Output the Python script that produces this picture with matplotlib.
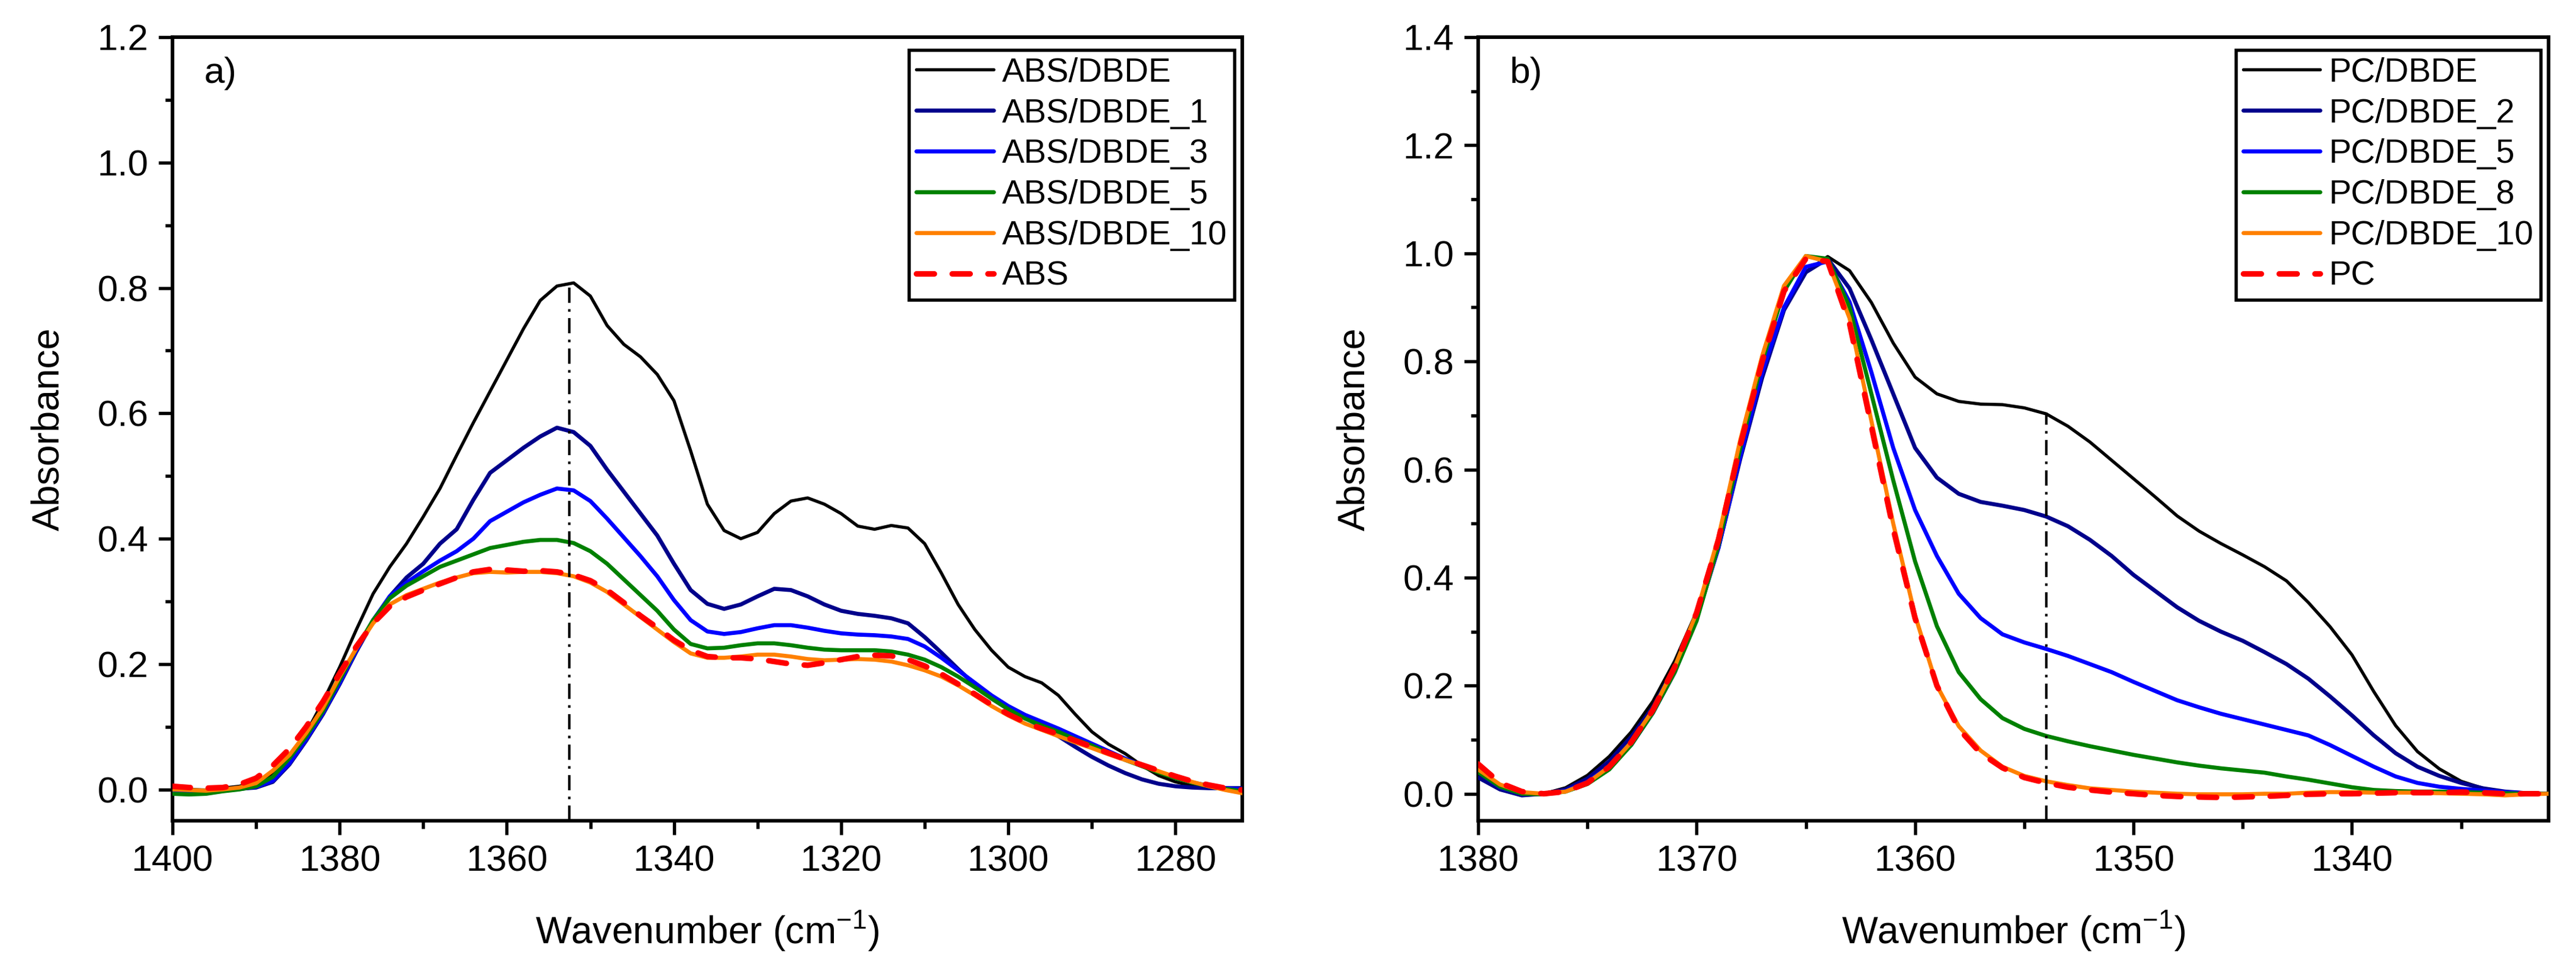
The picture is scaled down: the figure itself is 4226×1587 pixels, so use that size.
import numpy as np
import matplotlib
matplotlib.use("Agg")
import matplotlib.pyplot as plt
from matplotlib.ticker import MultipleLocator

plt.rcParams['font.family'] = ['Liberation Sans', 'DejaVu Sans']
plt.rcParams['mathtext.fontset'] = 'custom'
plt.rcParams['mathtext.rm'] = 'Liberation Sans'
plt.rcParams['mathtext.it'] = 'Liberation Sans:italic'
plt.rcParams['mathtext.bf'] = 'Liberation Sans:bold'

# ---------------- Panel a) data ----------------
wn_a = np.arange(1400, 1271, -2)

abs_dbde = [0.000, 0.000, -0.001, 0.002, 0.005, 0.012, 0.025, 0.050, 0.090, 0.140,
            0.195, 0.255, 0.312, 0.355, 0.392, 0.435, 0.480, 0.533, 0.585, 0.635,
            0.685, 0.735, 0.780, 0.803, 0.808, 0.787, 0.740, 0.710, 0.690, 0.662,
            0.620, 0.540, 0.455, 0.413, 0.400, 0.410, 0.440, 0.460, 0.465, 0.455,
            0.440, 0.420, 0.415, 0.421, 0.417, 0.392, 0.345, 0.295, 0.255, 0.222,
            0.195, 0.180, 0.170, 0.150, 0.120, 0.092, 0.072, 0.057, 0.038, 0.022,
            0.012, 0.006, 0.003, 0.000, -0.002]

abs_dbde_1 = [-0.005, -0.006, -0.006, -0.002, 0.001, 0.003, 0.012, 0.040, 0.078, 0.120,
              0.168, 0.220, 0.268, 0.308, 0.338, 0.360, 0.392, 0.415, 0.462, 0.505,
              0.525, 0.545, 0.563, 0.577, 0.570, 0.548, 0.510, 0.475, 0.440, 0.405,
              0.360, 0.318, 0.296, 0.288, 0.295, 0.308, 0.320, 0.318, 0.308, 0.295,
              0.285, 0.280, 0.277, 0.273, 0.265, 0.243, 0.218, 0.192, 0.167, 0.145,
              0.128, 0.114, 0.100, 0.085, 0.068, 0.052, 0.038, 0.026, 0.016, 0.009,
              0.005, 0.003, 0.002, 0.002, 0.002]

abs_dbde_3 = [-0.004, -0.005, -0.005, -0.002, 0.001, 0.004, 0.014, 0.042, 0.080, 0.122,
              0.170, 0.222, 0.270, 0.308, 0.330, 0.348, 0.365, 0.380, 0.400, 0.428,
              0.443, 0.458, 0.470, 0.480, 0.477, 0.460, 0.432, 0.402, 0.372, 0.340,
              0.302, 0.270, 0.252, 0.248, 0.251, 0.257, 0.262, 0.262, 0.258, 0.253,
              0.249, 0.247, 0.246, 0.244, 0.240, 0.228, 0.210, 0.190, 0.170, 0.150,
              0.133, 0.119, 0.108, 0.097, 0.085, 0.073, 0.061, 0.049, 0.038, 0.028,
              0.019, 0.011, 0.006, 0.002, 0.000]

abs_dbde_5 = [-0.007, -0.008, -0.007, -0.003, 0.000, 0.005, 0.020, 0.050, 0.085, 0.125,
              0.175, 0.225, 0.270, 0.305, 0.325, 0.340, 0.355, 0.365, 0.375, 0.385,
              0.390, 0.395, 0.398, 0.398, 0.393, 0.380, 0.360, 0.335, 0.310, 0.285,
              0.255, 0.232, 0.225, 0.226, 0.230, 0.233, 0.233, 0.230, 0.226, 0.223,
              0.222, 0.222, 0.222, 0.220, 0.215, 0.207, 0.195, 0.180, 0.163, 0.145,
              0.128, 0.113, 0.102, 0.092, 0.080, 0.070, 0.058, 0.047, 0.037, 0.027,
              0.018, 0.011, 0.005, 0.001, -0.003]

abs_dbde_10 = [0.000, -0.001, -0.002, 0.000, 0.003, 0.010, 0.030, 0.055, 0.090, 0.130,
               0.180, 0.225, 0.265, 0.295, 0.310, 0.320, 0.330, 0.338, 0.345, 0.347,
               0.346, 0.347, 0.347, 0.345, 0.340, 0.330, 0.315, 0.295, 0.275, 0.255,
               0.235, 0.217, 0.210, 0.210, 0.212, 0.215, 0.215, 0.212, 0.208, 0.206,
               0.207, 0.208, 0.207, 0.204, 0.198, 0.190, 0.180, 0.166, 0.150, 0.133,
               0.118, 0.105, 0.095, 0.085, 0.075, 0.066, 0.056, 0.047, 0.038, 0.029,
               0.020, 0.012, 0.005, -0.001, -0.006]

abs_neat = [0.005, 0.003, 0.002, 0.003, 0.008, 0.018, 0.038, 0.065, 0.100, 0.140,
            0.185, 0.228, 0.265, 0.292, 0.307, 0.318, 0.328, 0.338, 0.347, 0.351,
            0.350, 0.348, 0.349, 0.347, 0.342, 0.333, 0.318, 0.298, 0.277, 0.258,
            0.238, 0.222, 0.212, 0.210, 0.210, 0.208, 0.204, 0.200, 0.198, 0.202,
            0.207, 0.212, 0.214, 0.213, 0.207, 0.197, 0.184, 0.168, 0.152, 0.135,
            0.120, 0.107, 0.097, 0.088, 0.078, 0.068, 0.058, 0.048, 0.039, 0.030,
            0.021, 0.013, 0.007, 0.002, -0.001]

labels_a = ['ABS/DBDE', 'ABS/DBDE_1', 'ABS/DBDE_3', 'ABS/DBDE_5', 'ABS/DBDE_10', 'ABS']
marker_a = (1352.5, 0.81)

# ---------------- Panel b) data ----------------
wn_b = np.arange(1380, 1330, -1)

pc_dbde = [0.034, 0.011, -0.002, 0.000, 0.011, 0.034, 0.069, 0.114, 0.171, 0.246,
           0.337, 0.463, 0.623, 0.771, 0.897, 0.966, 0.994, 0.968, 0.909, 0.834,
           0.771, 0.740, 0.726, 0.721, 0.720, 0.714, 0.703, 0.680, 0.651, 0.617,
           0.583, 0.549, 0.514, 0.486, 0.463, 0.442, 0.420, 0.394, 0.354, 0.309,
           0.257, 0.189, 0.126, 0.078, 0.046, 0.023, 0.010, 0.003, 0.000, 0.000]

pc_dbde_2 = [0.030, 0.008, -0.003, 0.000, 0.008, 0.028, 0.060, 0.105, 0.160, 0.235,
             0.330, 0.455, 0.620, 0.770, 0.895, 0.965, 0.990, 0.935, 0.840, 0.740,
             0.640, 0.585, 0.555, 0.540, 0.533, 0.525, 0.513, 0.495, 0.470, 0.440,
             0.405, 0.375, 0.345, 0.320, 0.300, 0.283, 0.262, 0.240, 0.213, 0.180,
             0.145, 0.108, 0.075, 0.050, 0.033, 0.020, 0.010, 0.004, 0.001, 0.000]

pc_dbde_5 = [0.040, 0.012, 0.000, 0.000, 0.005, 0.022, 0.050, 0.090, 0.150, 0.225,
             0.325, 0.455, 0.625, 0.780, 0.900, 0.975, 0.985, 0.910, 0.780, 0.640,
             0.525, 0.440, 0.370, 0.325, 0.295, 0.280, 0.268, 0.255, 0.240, 0.225,
             0.207, 0.190, 0.173, 0.160, 0.148, 0.138, 0.128, 0.118, 0.108, 0.090,
             0.070, 0.050, 0.032, 0.020, 0.013, 0.009, 0.006, 0.003, 0.001, 0.000]

pc_dbde_8 = [0.040, 0.013, 0.000, -0.001, 0.004, 0.018, 0.045, 0.090, 0.150, 0.225,
             0.320, 0.460, 0.640, 0.800, 0.930, 0.995, 0.990, 0.900, 0.740, 0.580,
             0.430, 0.310, 0.225, 0.175, 0.140, 0.120, 0.107, 0.097, 0.088, 0.080,
             0.072, 0.065, 0.058, 0.052, 0.047, 0.043, 0.039, 0.032, 0.026, 0.019,
             0.012, 0.007, 0.005, 0.004, 0.004, 0.003, 0.002, 0.001, 0.000, 0.000]

pc_dbde_10 = [0.045, 0.017, 0.003, 0.000, 0.004, 0.020, 0.050, 0.095, 0.155, 0.235,
              0.335, 0.475, 0.655, 0.810, 0.940, 0.995, 0.985, 0.880, 0.690, 0.500,
              0.330, 0.200, 0.125, 0.080, 0.050, 0.033, 0.023, 0.016, 0.010, 0.007,
              0.004, 0.002, 0.000, -0.001, -0.001, -0.001, 0.000, 0.000, 0.002, 0.003,
              0.003, 0.002, 0.002, 0.002, 0.001, 0.000, -0.001, -0.003, -0.001, 0.000]

pc_neat = [0.055, 0.020, 0.004, 0.000, 0.004, 0.020, 0.050, 0.095, 0.155, 0.235,
           0.335, 0.470, 0.645, 0.800, 0.930, 0.990, 0.985, 0.870, 0.680, 0.490,
           0.325, 0.200, 0.120, 0.075, 0.048, 0.030, 0.020, 0.012, 0.007, 0.003,
           0.000, -0.003, -0.005, -0.006, -0.007, -0.006, -0.005, -0.003, -0.001, 0.000,
           0.000, 0.001, 0.002, 0.002, 0.002, 0.003, 0.002, 0.000, 0.000, 0.000]

labels_b = ['PC/DBDE', 'PC/DBDE_2', 'PC/DBDE_5', 'PC/DBDE_8', 'PC/DBDE_10', 'PC']
marker_b = (1354.0, 0.705)

# ---------------- styling ----------------
colors = ['#000000', '#00008B', '#0000FF', '#008000', '#FF8000', '#FF0000']
widths = [1.25, 1.6, 1.6, 1.6, 1.6, 2.2]

W, H = 4226, 1587
fig = plt.figure(figsize=(W / 300, H / 300), dpi=300)

def px_axes(x0, x1, y0, y1):
    return fig.add_axes([x0 / W, 1 - y1 / H, (x1 - x0) / W, (y1 - y0) / H])

ax_a = px_axes(283, 2038, 61, 1347)
ax_b = px_axes(2425, 4181, 61, 1347)

def draw(ax, wn, series, labels, xlim, ylim, xmaj, xmin, marker, tag):
    for i, (ys, lab) in enumerate(zip(series, labels)):
        if i == 5:
            ax.plot(wn, ys, color=colors[i], lw=widths[i], ls=(0, (3.2, 3.2)),
                    dash_capstyle='round', label=lab, zorder=5 + i)
        else:
            ax.plot(wn, ys, color=colors[i], lw=widths[i], label=lab,
                    solid_capstyle='round', solid_joinstyle='round', zorder=2 + i)
    ax.plot([marker[0], marker[0]], [ylim[0], marker[1]], color='black',
            lw=1.0, ls=(0, (6, 2.5, 1, 2.5)), zorder=12)
    ax.set_xlim(*xlim)
    ax.set_ylim(*ylim)
    ax.xaxis.set_major_locator(MultipleLocator(xmaj))
    ax.xaxis.set_minor_locator(MultipleLocator(xmin))
    ax.yaxis.set_major_locator(MultipleLocator(0.2))
    ax.yaxis.set_minor_locator(MultipleLocator(0.1))
    ax.yaxis.set_major_formatter(matplotlib.ticker.FormatStrFormatter('%.1f'))
    ax.tick_params(which='major', direction='out', length=5.5, width=1.3,
                   labelsize=14.5, pad=4, top=False, right=False)
    ax.tick_params(which='minor', direction='out', length=3, width=1.3,
                   top=False, right=False)
    for s in ax.spines.values():
        s.set_linewidth(1.4)
    ax.set_xlabel(r'Wavenumber (cm$^{-1}$)', fontsize=15, labelpad=12)
    ax.set_ylabel('Absorbance', fontsize=15, labelpad=12)
    ax.text(0.029, 0.975, tag, transform=ax.transAxes, ha='left', va='top',
            fontsize=14.5)
    leg = ax.legend(loc='upper right', bbox_to_anchor=(0.9926, 0.984),
                    borderaxespad=0, fontsize=13.2, frameon=True, fancybox=False,
                    edgecolor='black', framealpha=1, handlelength=2.3,
                    handletextpad=0.25, labelspacing=0.27, borderpad=0.22)
    leg.get_frame().set_linewidth(1.3)

draw(ax_a, wn_a, [abs_dbde, abs_dbde_1, abs_dbde_3, abs_dbde_5, abs_dbde_10, abs_neat],
     labels_a, (1400, 1272), (-0.05, 1.2), 20, 10, marker_a, 'a)')
draw(ax_b, wn_b, [pc_dbde, pc_dbde_2, pc_dbde_5, pc_dbde_8, pc_dbde_10, pc_neat],
     labels_b, (1380, 1331), (-0.05, 1.4), 10, 5, marker_b, 'b)')

fig.savefig('out.png', dpi=300)
